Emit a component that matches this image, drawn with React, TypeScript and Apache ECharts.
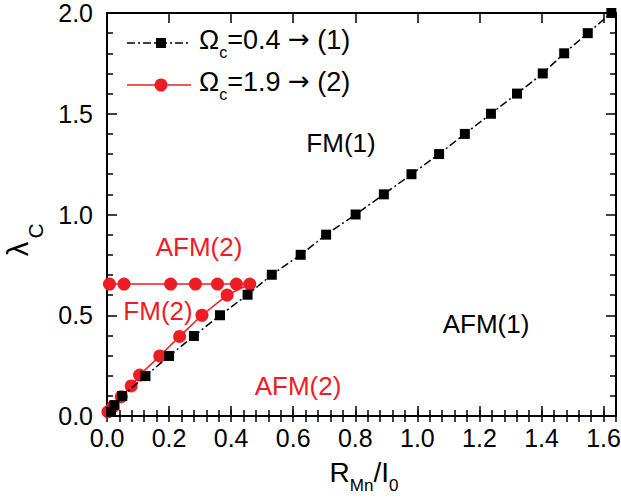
import React, { useEffect, useRef } from "react";
import * as echarts from "echarts";

// Data
const blackX = [0.013, 0.024, 0.049, 0.124, 0.2, 0.28, 0.364, 0.453, 0.531, 0.624, 0.706, 0.801, 0.892, 0.981, 1.07, 1.153, 1.237, 1.321, 1.404, 1.473, 1.549, 1.625];
const blackY = [0.021, 0.054, 0.099, 0.198, 0.298, 0.397, 0.5, 0.602, 0.701, 0.8, 0.9, 1.0, 1.1, 1.2, 1.3, 1.4, 1.5, 1.6, 1.7, 1.8, 1.9, 2.0];
const redX = [0.003, 0.019, 0.046, 0.078, 0.105, 0.17, 0.234, 0.306, 0.387, 0.46, 0.417, 0.356, 0.285, 0.205, 0.055, 0.008];
const redY = [0.021, 0.046, 0.096, 0.149, 0.203, 0.298, 0.395, 0.5, 0.6, 0.655, 0.655, 0.655, 0.655, 0.655, 0.655, 0.655];

const xMin = 0;
const xMax = 1.64;
const xMajor = 0.2;
const xMinor = 0.04;
const yMin = 0;
const yMax = 2;
const yMajor = 0.5;

const legendValues = ["=0.4 ", "=1.9 "];
const legendTargets = ["(1)", "(2)"];
const annotations = [
  { text: "FM(1)", x: 341, y: 143, color: "#000" },
  { text: "AFM(2)", x: 199, y: 247, color: "#ee1c25" },
  { text: "FM(2)", x: 158, y: 311, color: "#ee1c25" },
  { text: "AFM(1)", x: 486, y: 324, color: "#000" },
  { text: "AFM(2)", x: 298, y: 386, color: "#ee1c25" },
];

const RED = "#ee1c25";
const FONT = "Liberation Sans, Arial, sans-serif";

export default function App() {
  const ref = useRef<HTMLDivElement>(null);
  useEffect(() => {
    document.body.style.margin = "0";
    if (!ref.current) return;
    const chart = echarts.init(ref.current, undefined, { renderer: "svg" });
    const lineCol = { color: "#000", width: 2 };
    const tickStyle = { color: "#000", width: 1.5 };
    const majorX = (pos: string, labels: boolean) => ({
      type: "value",
      position: pos,
      min: xMin,
      max: xMax,
      interval: xMajor,
      axisLine: { show: true, onZero: false, lineStyle: lineCol },
      axisTick: { show: true, inside: true, length: 10, lineStyle: tickStyle },
      axisLabel: {
        show: labels,
        fontSize: 25,
        color: "#000",
        margin: 9,
        fontFamily: FONT,
        formatter: (v: number) => (v > 1.61 ? "" : v.toFixed(1)),
      },
      splitLine: { show: false },
    });
    const minorX = (pos: string) => ({
      type: "value",
      position: pos,
      min: xMin,
      max: xMax,
      interval: xMinor,
      axisLine: { show: false },
      axisTick: { show: true, inside: true, length: 6, lineStyle: tickStyle },
      axisLabel: { show: false },
      splitLine: { show: false },
    });
    const yAx = (pos: string, labels: boolean) => ({
      type: "value",
      position: pos,
      min: yMin,
      max: yMax,
      interval: yMajor,
      axisLine: { show: true, onZero: false, lineStyle: lineCol },
      axisTick: { show: true, inside: true, length: 10, lineStyle: tickStyle },
      minorTick: { show: true, splitNumber: 5, length: 6, lineStyle: tickStyle },
      axisLabel: {
        show: labels,
        fontSize: 25,
        lineHeight: 22,
        color: "#000",
        margin: 14,
        fontFamily: FONT,
        formatter: (v: number) => v.toFixed(1),
      },
      splitLine: { show: false },
      minorSplitLine: { show: false },
    });

    const subRich = {
      o: { fontSize: 27, lineHeight: 34, verticalAlign: "top", fontFamily: FONT, color: "#000" },
      a: { fontSize: 26, lineHeight: 34, verticalAlign: "top", fontFamily: "DejaVu Sans", color: "#000" },
      s: { fontSize: 16, lineHeight: 11, verticalAlign: "bottom", fontFamily: FONT, color: "#000" },
      r: { fontSize: 27, lineHeight: 34, verticalAlign: "top", fontFamily: FONT, color: RED },
    };
    const legendText = (i: number) =>
      "{o|\u03A9}{s|c}{o|" + legendValues[i] + "}{a|\u2192}{o| }{" + (i === 0 ? "o" : "r") + "|" + legendTargets[i] + "}";

    const option: any = {
      animation: false,
      textStyle: { fontFamily: FONT },
      grid: { left: 107, right: 5, top: 13, bottom: 87, containLabel: false, outerBoundsMode: "none" },
      xAxis: [majorX("bottom", true), minorX("bottom"), majorX("top", false), minorX("top")],
      yAxis: [yAx("left", true), yAx("right", false)],
      series: [
        {
          type: "line",
          xAxisIndex: 0,
          yAxisIndex: 0,
          data: redX.map((x, i) => [x, redY[i]]),
          symbol: "circle",
          symbolSize: 13,
          itemStyle: { color: RED },
          lineStyle: { color: RED, width: 1.5 },
          z: 2,
        },
        {
          type: "line",
          xAxisIndex: 0,
          yAxisIndex: 0,
          data: blackX.map((x, i) => [x, blackY[i]]),
          symbol: "rect",
          symbolSize: 10,
          itemStyle: { color: "#000" },
          lineStyle: { color: "#000", width: 1.5, type: [8, 3, 2, 3] },
          z: 3,
        },
      ],
      graphic: [
        // legend row 1
        { type: "line", shape: { x1: 127, y1: 43, x2: 191, y2: 43 }, style: { stroke: "#000", lineWidth: 1.5, lineDash: [8, 3, 2, 3] }, z: 10 },
        { type: "rect", shape: { x: 156, y: 38, width: 10, height: 10 }, style: { fill: "#000" }, z: 11 },
        {
          type: "text", x: 199, y: 43, z: 10,
          style: { text: legendText(0), rich: subRich, verticalAlign: "middle", align: "left" },
        },
        // legend row 2
        { type: "line", shape: { x1: 127, y1: 85, x2: 191, y2: 85 }, style: { stroke: RED, lineWidth: 1.5 }, z: 10 },
        { type: "circle", shape: { cx: 161, cy: 85, r: 6.5 }, style: { fill: RED }, z: 11 },
        {
          type: "text", x: 199, y: 85, z: 10,
          style: { text: legendText(1), rich: subRich, verticalAlign: "middle", align: "left" },
        },
        // annotations
        ...annotations.map((a) => ({
          type: "text", x: a.x, y: a.y, z: 10,
          style: { text: a.text, fill: a.color, fontSize: 26, fontFamily: FONT, align: "center", verticalAlign: "middle" },
        })),
        // y axis title (lambda with subscript C), rotated
        {
          type: "text", x: 18, y: 249, rotation: Math.PI / 2, z: 10,
          style: { text: "\u03BB", fill: "#000", fontSize: 29, fontFamily: FONT, align: "center", verticalAlign: "middle" },
        },
        {
          type: "text", x: 35, y: 231, rotation: Math.PI / 2, z: 10,
          style: { text: "C", fill: "#000", fontSize: 21, fontFamily: FONT, align: "center", verticalAlign: "middle" },
        },
        // x axis title
        {
          type: "text", x: 364, y: 476, z: 10,
          style: {
            text: "{b|R}{s|Mn}{b|/I}{s|0}",
            align: "center",
            verticalAlign: "middle",
            rich: {
              b: { fontSize: 28, lineHeight: 36, verticalAlign: "top", fontFamily: FONT, color: "#000" },
              s: { fontSize: 17, lineHeight: 10, verticalAlign: "bottom", fontFamily: FONT, color: "#000" },
            },
          },
        },
      ],
    };
    chart.setOption(option);
    return () => chart.dispose();
  }, []);
  return <div ref={ref} style={{ width: 621, height: 503 }} />;
}
